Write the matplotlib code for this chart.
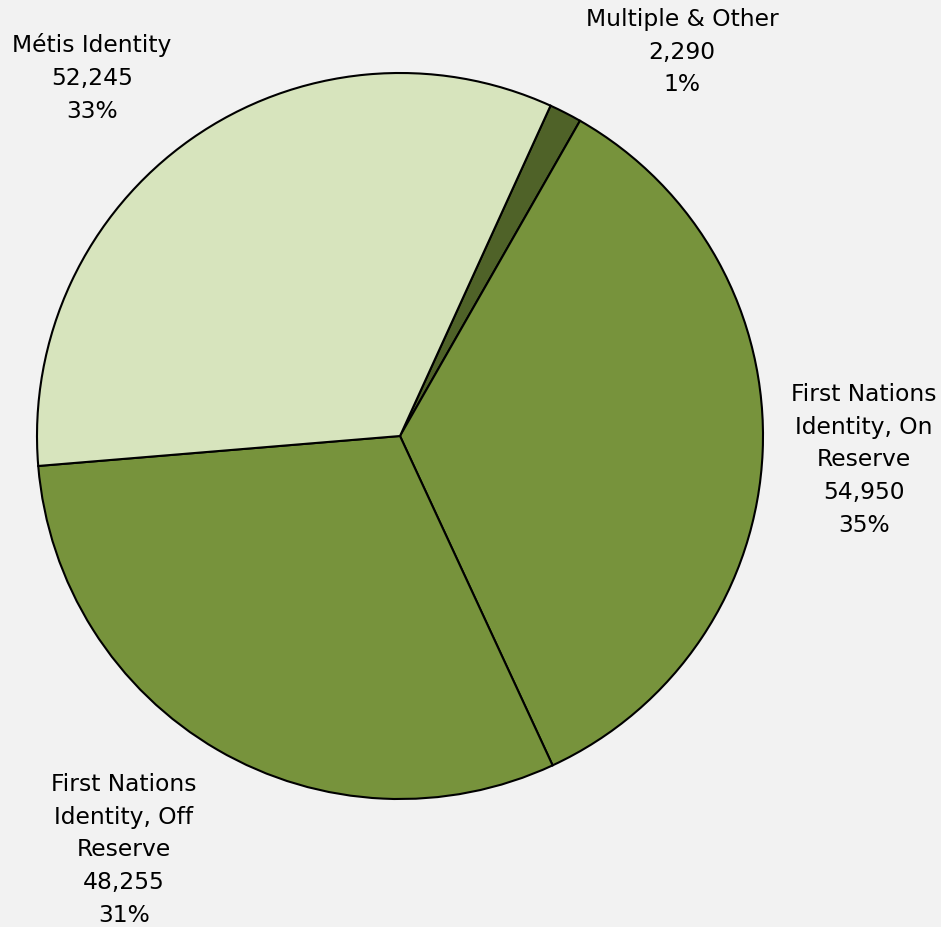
import matplotlib.pyplot as plt

# Aboriginal identity population breakdown
labels = ["Multiple & Other", "First Nations\nIdentity, On\nReserve",
          "First Nations\nIdentity, Off\nReserve", "Métis Identity"]
counts = [2290, 54950, 48255, 52245]
colors = ["#4F6228", "#77933C", "#77933C", "#D7E4BD"]

# label anchor points (pixel coords, top-left origin) for the centre of each text block
label_pos = [(682, 52), (864, 460), (124, 850), (92, 78)]

W, H = 941, 928
fig = plt.figure(figsize=(W / 100, H / 100), dpi=100)
fig.patch.set_facecolor("#F2F2F2")
ax = fig.add_axes([0, 0, 1, 1])
ax.set_facecolor("#F2F2F2")

ax.pie(counts, colors=colors, startangle=65.5, counterclock=False,
       center=(400, H - 437), radius=363,
       wedgeprops=dict(edgecolor="black", linewidth=1.5))

total = sum(counts)
for lab, val, (x, y) in zip(labels, counts, label_pos):
    txt = f"{lab}\n{val:,}\n{round(val / total * 100)}%"
    ax.text(x, H - y, txt, ha="center", va="center", multialignment="center",
            fontsize=16.8, linespacing=1.54, family="DejaVu Sans")

ax.set_xlim(0, W)
ax.set_ylim(0, H)
ax.set_aspect("equal")
ax.axis("off")

plt.savefig("out.png", dpi=100, facecolor=fig.get_facecolor())
